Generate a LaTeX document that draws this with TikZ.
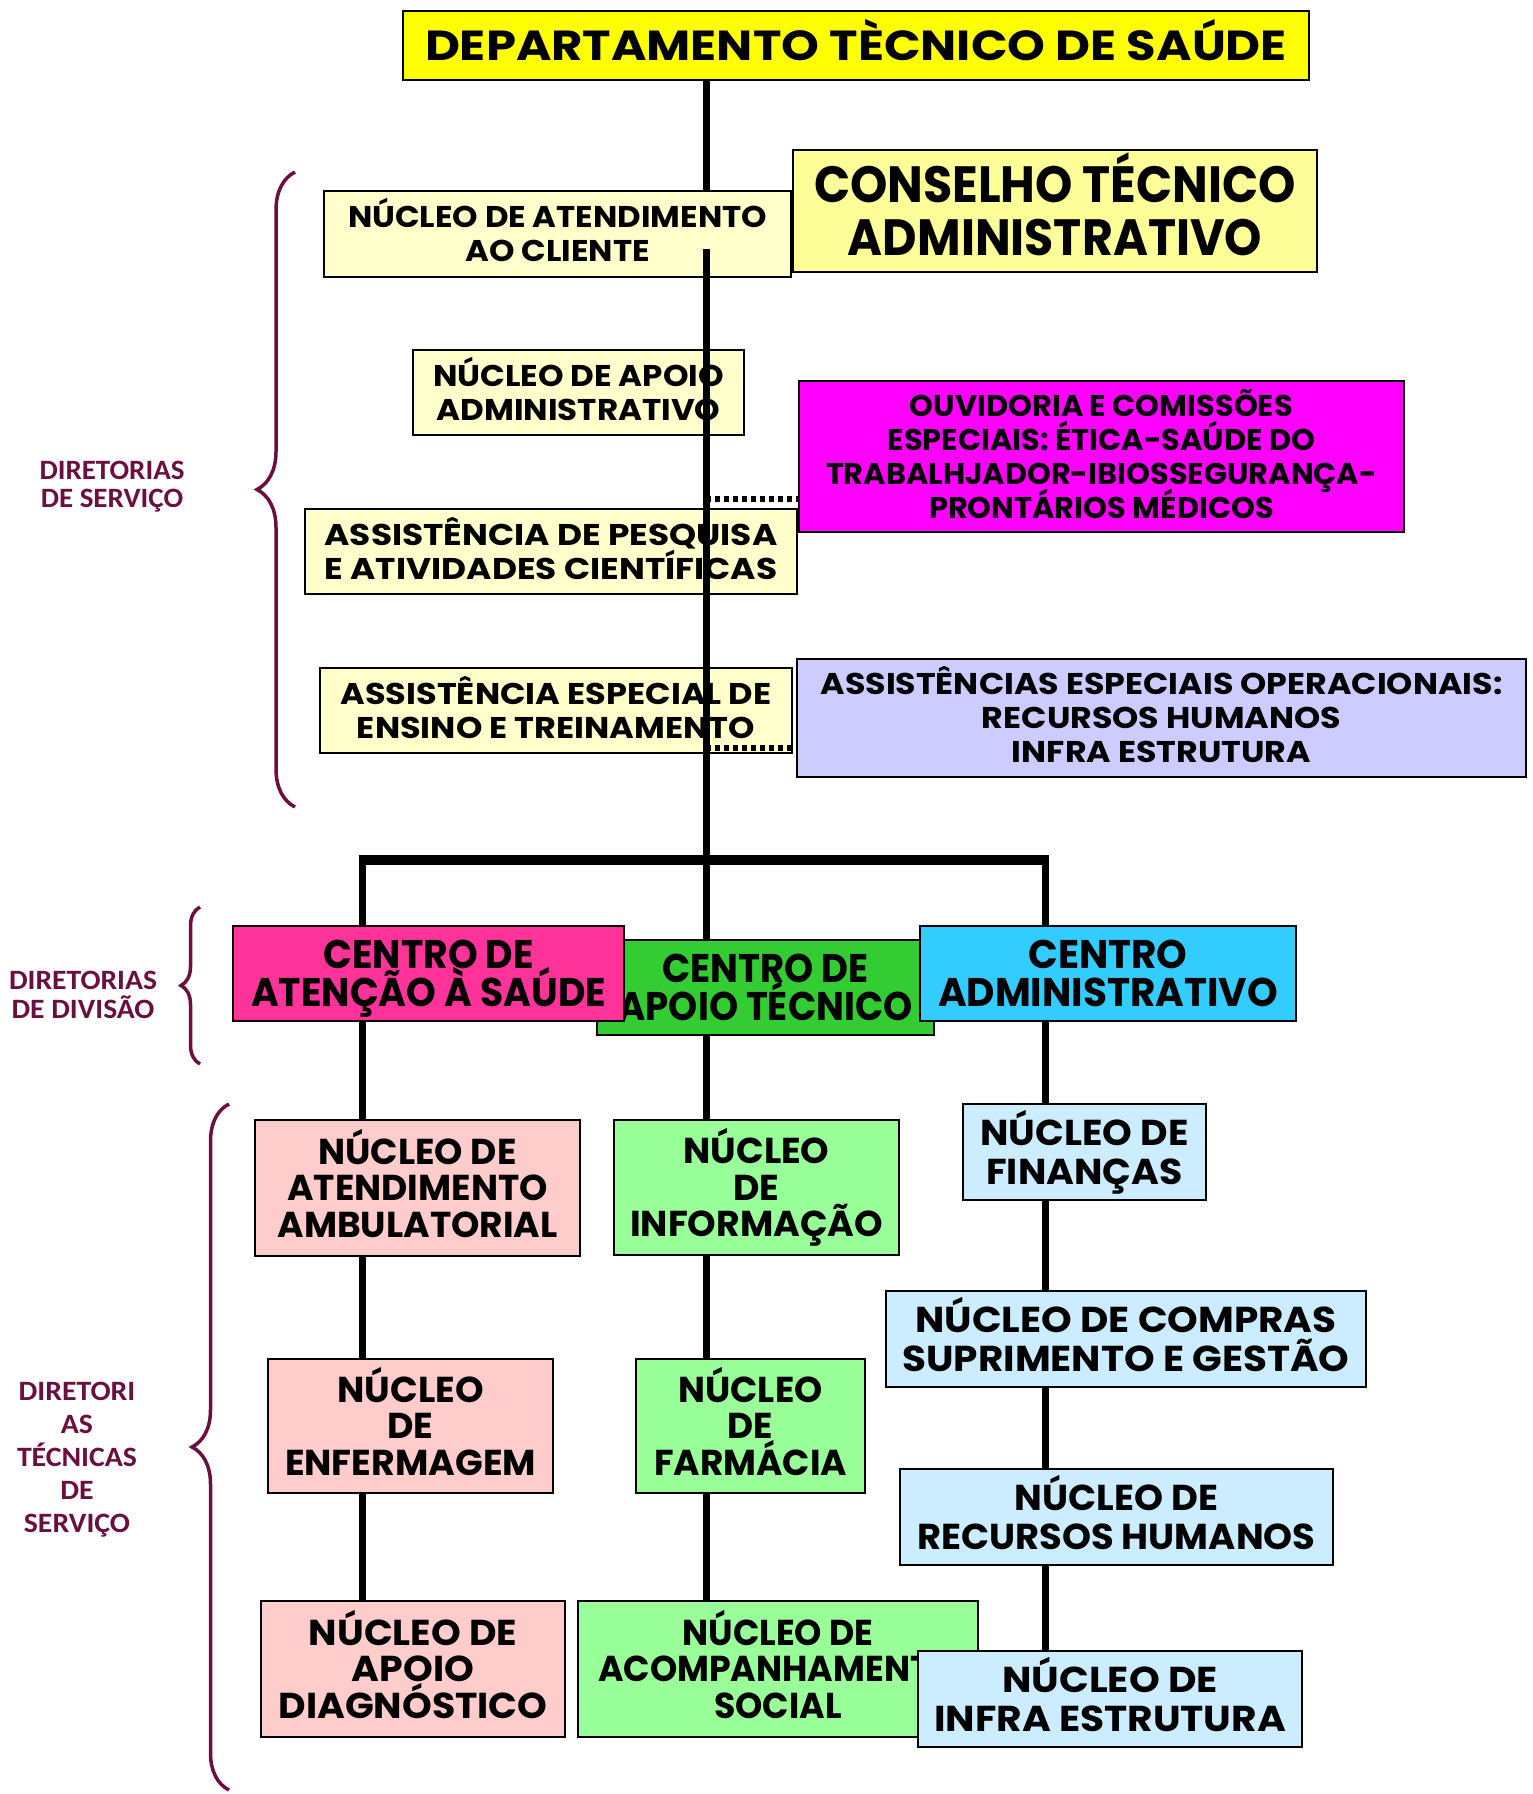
\documentclass[tikz,border=0pt]{standalone}
\usepackage{fontspec}
\usepackage{graphicx}
\setmainfont{Poppins}
\newfontfamily\labelfont{Carlito}
\usetikzlibrary{decorations.pathreplacing}

\definecolor{ttl}{HTML}{FFFF00}
\definecolor{cons}{HTML}{FFFF99}
\definecolor{pale}{HTML}{FFFFCC}
\definecolor{mag}{HTML}{FF00FF}
\definecolor{lav}{HTML}{CCCCFF}
\definecolor{cpink}{HTML}{FF3399}
\definecolor{cgreen}{HTML}{33CC33}
\definecolor{ccyan}{HTML}{33CCFF}
\definecolor{npink}{HTML}{FFCCCC}
\definecolor{ngreen}{HTML}{99FF99}
\definecolor{nblue}{HTML}{CCECFF}
\definecolor{labelred}{HTML}{6B0F3F}

\pgfdeclarelayer{background}
\pgfsetlayers{background,main}

% Centred lines, all squeezed by one horizontal factor so that the
% widest line gets the given width; caps block is vertically centred.
\makeatletter
\newcommand\TB[2]{%
  \setbox0\hbox{\begin{tabular}{@{}c@{}}#2\end{tabular}}%
  \dimen@=\wd0
  \edef\tb@w{\strip@pt\dimen@}%
  \pgfmathsetmacro\tb@xs{#1/\tb@w}%
  \vbox{\lineskiplimit=-\maxdimen\lineskip=0pt
    \def\\{\egroup\tb@row\setbox2\hbox\bgroup}%
    \setbox2\hbox\bgroup#2\egroup\tb@row}}
\newcommand\tb@row{\hbox{\vrule height\fontcharht\font`H depth0pt width0pt
  \smash{\makebox[0pt]{\scalebox{\tb@xs}[1]{\box2}}}}}
\makeatother

\tikzset{
  box/.style n args={4}{draw=black, line width=1.5pt, inner sep=0pt,
    at={({(#1+#3)/2},{(#2+#4)/2})},
    minimum width={(#3-#1)*1pt}, minimum height={(#4-#2)*1pt}},
  ftitle/.style={font=\bfseries\fontsize{42}{42}\selectfont},
  fcons/.style={font=\bfseries\fontsize{51}{53}\selectfont},
  fsmall/.style={font=\bfseries\fontsize{30}{34}\selectfont},
  fcenter/.style={font=\bfseries\fontsize{40}{38}\selectfont},
  fnuc/.style={font=\bfseries\fontsize{36}{36.7}\selectfont},
  fnucb/.style={font=\bfseries\fontsize{36}{38.6}\selectfont},
  sidelabel/.style={text=labelred, inner sep=0pt,
    font=\labelfont\bfseries\fontsize{28}{#1}\selectfont},
  trunk/.style={line width=7pt},
  crossbar/.style={line width=10pt, shorten <=-3.5pt, shorten >=-3.5pt},
  dotlink/.style={line width=6pt, dash pattern=on 5pt off 4pt},
  brc/.style={draw=labelred, line width=3.5pt, decorate,
    decoration={brace, amplitude=#1}},
}

\begin{document}
\begin{tikzpicture}[x=1pt, y=-1pt]
\useasboundingbox (0,0) rectangle (1532,1794);
\begin{pgfonlayer}{background}
\fill[white] (0,0) rectangle (1532,1794);
\end{pgfonlayer}

% trunk junctions
\coordinate (barL) at (362,860);
\coordinate (barM) at (706,860);
\coordinate (barR) at (1045,860);
\coordinate (cl) at (706,249);
\coordinate (d1) at (706,499);
\coordinate (d2) at (706,748);

\node[box={403}{11}{1309}{80}, fill=ttl, ftitle] (title)
  {\TB{862}{DEPARTAMENTO TÈCNICO DE SAÚDE}};

% upper block (service boards)
\node[box={324}{191}{791}{277}, fill=pale, fsmall] (cliente)
  {\TB{419}{NÚCLEO DE ATENDIMENTO\\AO CLIENTE}};
\node[box={793}{150}{1317}{272}, fill=cons, fcons] (conselho)
  {\TB{482}{CONSELHO TÉCNICO\\ADMINISTRATIVO}};
\node[box={413}{350}{744}{435}, fill=pale, fsmall] (apoioadm)
  {\TB{291}{NÚCLEO DE APOIO\\ADMINISTRATIVO}};
\node[box={305}{509}{797}{594}, fill=pale, fsmall] (pesquisa)
  {\TB{453}{ASSISTÊNCIA DE PESQUISA\\E ATIVIDADES CIENTÍFICAS}};
\node[box={799}{381}{1404}{532}, fill=mag, fsmall] (ouvidoria)
  {\TB{551}{OUVIDORIA E COMISSÕES\\ESPECIAIS: ÉTICA-SAÚDE DO\\TRABALHJADOR-IBIOSSEGURANÇA-\\PRONTÁRIOS MÉDICOS}};
\node[box={320}{668}{792}{753}, fill=pale, fsmall] (ensino)
  {\TB{431}{ASSISTÊNCIA ESPECIAL DE\\ENSINO E TREINAMENTO}};
\node[box={797}{659}{1526}{777}, fill=lav, fsmall] (operac)
  {\TB{682}{ASSISTÊNCIAS ESPECIAIS OPERACIONAIS:\\RECURSOS HUMANOS\\INFRA ESTRUTURA}};

% trunk: hidden under the client desk at the top, drawn over the other boxes
\begin{pgfonlayer}{background}
\draw[trunk] (barM |- title.south) -- (barM |- cliente.north);
\end{pgfonlayer}
\draw[trunk] (cl) -- (barM);
\draw[dotlink] (d1) -- (d1 -| ouvidoria.west);
\draw[dotlink] (d2) -- (d2 -| operac.west);

% division centres
\node[box={597}{940}{934}{1035}, fill=cgreen, fcenter] (capoio)
  {\TB{294}{CENTRO DE\\APOIO TÉCNICO}};
\node[box={233}{926}{624}{1021}, fill=cpink, fcenter] (csaude)
  {\TB{355}{CENTRO DE\\ATENÇÃO À SAÚDE}};
\node[box={920}{926}{1296}{1021}, fill=ccyan, fcenter] (cadm)
  {\TB{340}{CENTRO\\ADMINISTRATIVO}};

% technical service units
\node[box={255}{1120}{580}{1256}, fill=npink, fnuc] (amb)
  {\TB{280}{NÚCLEO DE\\ATENDIMENTO\\AMBULATORIAL}};
\node[box={268}{1359}{553}{1493}, fill=npink, fnuc] (enf)
  {\TB{251}{NÚCLEO\\DE\\ENFERMAGEM}};
\node[box={261}{1601}{565}{1737}, fill=npink, fnuc] (diag)
  {\TB{269}{NÚCLEO DE\\APOIO\\DIAGNÓSTICO}};
\node[box={614}{1120}{899}{1255}, fill=ngreen, fnuc] (info)
  {\TB{253}{NÚCLEO\\DE\\INFORMAÇÃO}};
\node[box={636}{1359}{865}{1493}, fill=ngreen, fnuc] (farm)
  {\TB{193}{NÚCLEO\\DE\\FARMÁCIA}};
\node[box={578}{1601}{978}{1737}, fill=ngreen, fnuc] (acomp)
  {\TB{360}{NÚCLEO DE\\ACOMPANHAMENTO\\SOCIAL}};
\node[box={963}{1104}{1206}{1200}, fill=nblue, fnucb] (fin)
  {\TB{208}{NÚCLEO DE\\FINANÇAS}};
\node[box={886}{1291}{1366}{1387}, fill=nblue, fnucb] (compras)
  {\TB{447}{NÚCLEO DE COMPRAS\\SUPRIMENTO E GESTÃO}};
\node[box={900}{1469}{1333}{1565}, fill=nblue, fnucb] (rh)
  {\TB{398}{NÚCLEO DE\\RECURSOS HUMANOS}};
\node[box={918}{1651}{1302}{1747}, fill=nblue, fnucb] (infra)
  {\TB{352}{NÚCLEO DE\\INFRA ESTRUTURA}};

% cross bar and the three column links, behind the boxes
\begin{pgfonlayer}{background}
\draw[crossbar] (barL) -- (barR);
\draw[trunk] (barL) -- (barL |- diag.north);
\draw[trunk] (barM) -- (barM |- acomp.north);
\draw[trunk] (barR) -- (barR |- infra.north);
\end{pgfonlayer}

% side braces and their labels
\draw[brc=38pt] (295,807) -- (295,172);
\draw[brc=19pt] (200,1064) -- (200,907);
\draw[brc=37pt] (229,1790) -- (229,1104);

\node[sidelabel=28] (lab1) at (112,484) {\TB{145}{DIRETORIAS\\DE SERVIÇO}};
\node[sidelabel=29] (lab2) at (83,995) {\TB{148}{DIRETORIAS\\DE DIVISÃO}};
\node[sidelabel=33] (lab3) at (77,1457) {\TB{120}{DIRETORI\\AS\\TÉCNICAS\\DE\\SERVIÇO}};
\end{tikzpicture}
\end{document}
